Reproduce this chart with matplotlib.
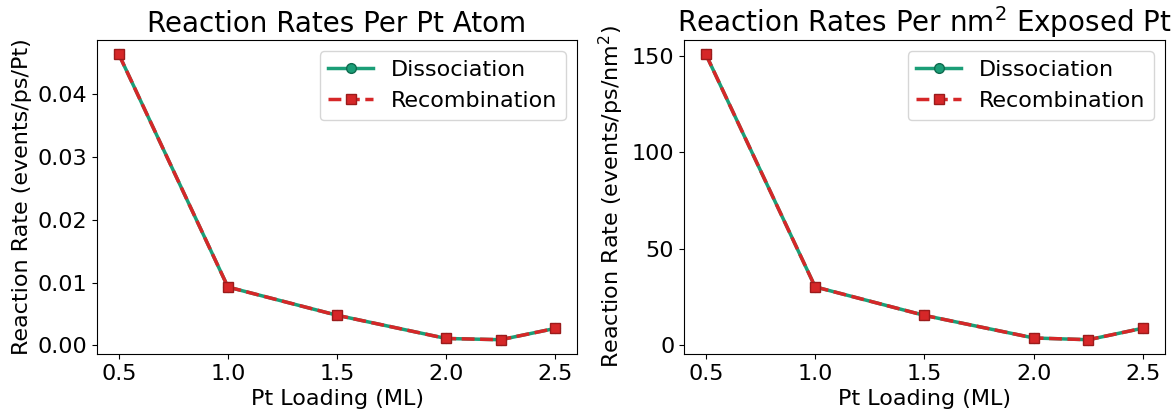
import numpy as np
import matplotlib.pyplot as plt

# Pt loading (ML)
loading = [0.5, 1.0, 1.5, 2.0, 2.25, 2.5]

# rates per Pt atom (events/ps/Pt)
diss_per_atom = [0.0464, 0.0093, 0.0048, 0.0011, 0.0009, 0.0027]
recomb_per_atom = [0.0464, 0.0093, 0.0048, 0.0011, 0.0009, 0.0027]

# rates per nm^2 exposed Pt (events/ps/nm^2)
diss_per_area = [150.9, 30.3, 15.5, 3.8, 2.9, 8.9]
recomb_per_area = [150.9, 30.3, 15.5, 3.8, 2.9, 8.9]

green = '#1b9e77'
red = '#d62728'

fig = plt.figure(figsize=(11.73, 4.09), dpi=100)
ax1 = fig.add_axes([0.0827, 0.1345, 0.4092, 0.7677])
ax2 = fig.add_axes([0.5831, 0.1345, 0.4101, 0.7677])

panels = [
    (ax1, diss_per_atom, recomb_per_atom, 'Reaction Rates Per Pt Atom',
     'Reaction Rate (events/ps/Pt)'),
    (ax2, diss_per_area, recomb_per_area, 'Reaction Rates Per nm$^2$ Exposed Pt',
     'Reaction Rate (events/ps/nm$^2$)'),
]

for ax, diss, recomb, title, ylabel in panels:
    ax.plot(loading, diss, '-o', color=green, linewidth=2.5, markersize=7,
            markeredgecolor='#0e6b4f', label='Dissociation')
    ax.plot(loading, recomb, '--s', color=red, linewidth=2.5, markersize=7,
            markeredgecolor='#9b1b1b', label='Recombination')
    ax.set_title(title, fontsize=20)
    ax.set_xlabel('Pt Loading (ML)', fontsize=16)
    ax.set_ylabel(ylabel, fontsize=16)
    ax.set_xticks([0.5, 1.0, 1.5, 2.0, 2.5])
    ax.tick_params(labelsize=16)
    ax.legend(fontsize=16, loc='upper right')

ax1.set_yticks([0.0, 0.01, 0.02, 0.03, 0.04])
ax2.set_yticks([0, 50, 100, 150])

fig.savefig('out.png')
